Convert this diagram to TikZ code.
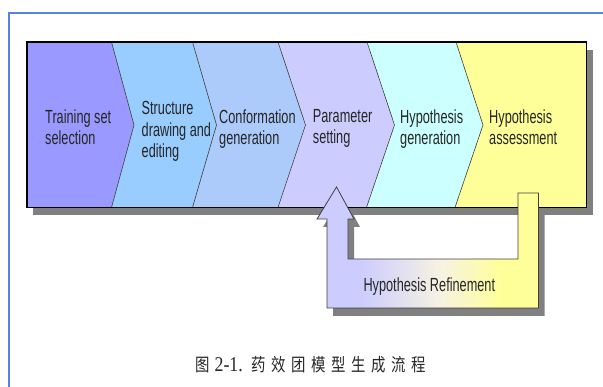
\documentclass[tikz,border=0pt]{standalone}
\usepackage{fontspec}
\newfontfamily\lbl[FakeStretch=0.67]{Liberation Sans}
\newfontfamily\cjk[FakeStretch=0.8,LetterSpace=31]{Noto Sans CJK SC}
\newfontfamily\capserif[FakeStretch=0.85]{Liberation Serif}
\definecolor{frameblue}{RGB}{84,132,220}
\definecolor{cA}{RGB}{153,153,255}
\definecolor{cB}{RGB}{153,204,255}
\definecolor{cC}{RGB}{172,202,250}
\definecolor{cD}{RGB}{204,204,255}
\definecolor{cE}{RGB}{204,255,255}
\definecolor{cF}{RGB}{255,255,153}
\definecolor{cMid}{RGB}{246,242,226}
\definecolor{shadowgray}{RGB}{128,128,128}
\pgfdeclarehorizontalshading{fbshade}{100bp}{color(0bp)=(cD); color(34.7bp)=(cD); color(52.8bp)=(cMid); color(66.3bp)=(cF); color(100bp)=(cF)}
\begin{document}
\begin{tikzpicture}[x=1pt,y=-1pt,
  lbltext/.style={font=\lbl\fontsize{19}{21.5}\selectfont, text=black!85, inner sep=0pt, anchor=north west, align=left},
  seg/.style={draw=black!75, line width=0.6pt},
  outline/.style={draw=black!75, line width=0.8pt}]
\useasboundingbox (0,0) rectangle (603,387);
\fill[white] (0,0) rectangle (603,387);
\draw[frameblue, line width=2pt] (8.5,387) -- (8.5,13.3) -- (603,13.3);

% bar corners and chevron boundaries
\coordinate (TL) at (27,42);
\coordinate (TR) at (586.5,42);
\coordinate (BR) at (586.5,207.5);
\coordinate (BL) at (27,207.5);
\coordinate (b1t) at (111.5,42);  \coordinate (b1m) at (134,125);   \coordinate (b1b) at (111.5,207.5);
\coordinate (b2t) at (192.5,42);  \coordinate (b2m) at (216.5,125); \coordinate (b2b) at (192.5,207.5);
\coordinate (b3t) at (278,42);    \coordinate (b3m) at (305.5,125); \coordinate (b3b) at (278,207.5);
\coordinate (b4t) at (367,42);    \coordinate (b4m) at (394.5,125); \coordinate (b4b) at (366.5,207.5);
\coordinate (b5t) at (456,42);    \coordinate (b5m) at (483,125);   \coordinate (b5b) at (455,207.5);

% shadows
\fill[shadowgray] ([shift={(6,8)}]TL) rectangle ([shift={(6,8)}]BR);
\fill[shadowgray, shift={(6,8)}] (336.5,187) -- (354,219) -- (348,219) -- (348,259) -- (518,259) -- (518,193) -- (538.5,193) -- (538.5,308) -- (327,308) -- (327,219) -- (317,219) -- cycle;

% chevron segments
\fill[cA] (TL) -- (b1t) -- (b1m) -- (b1b) -- (BL) -- cycle;
\fill[cB] (b1t) -- (b2t) -- (b2m) -- (b2b) -- (b1b) -- (b1m) -- cycle;
\fill[cC] (b2t) -- (b3t) -- (b3m) -- (b3b) -- (b2b) -- (b2m) -- cycle;
\fill[cD] (b3t) -- (b4t) -- (b4m) -- (b4b) -- (b3b) -- (b3m) -- cycle;
\fill[cE] (b4t) -- (b5t) -- (b5m) -- (b5b) -- (b4b) -- (b4m) -- cycle;
\fill[cF] (b5t) -- (TR) -- (BR) -- (b5b) -- (b5m) -- cycle;
\draw[seg] (b1t) -- (b1m) -- (b1b);
\draw[seg] (b2t) -- (b2m) -- (b2b);
\draw[seg] (b3t) -- (b3m) -- (b3b);
\draw[seg] (b4t) -- (b4m) -- (b4b);
\draw[seg] (b5t) -- (b5m) -- (b5b);
\draw[black, line width=1.5pt] (TL) rectangle (BR);

% feedback arrow
\shadedraw[shading=fbshade, outline] (336.5,187) -- (354,219) -- (348,219) -- (348,259) -- (518,259) -- (518,193) -- (538.5,193) -- (538.5,308) -- (327,308) -- (327,219) -- (317,219) -- cycle;

% labels
\node[lbltext] (t1) at (45,109.1) {Training set\\selection};
\node[lbltext] (t2) at (141.5,101.1) {Structure\\drawing and\\editing};
\node[lbltext] (t3) at (219,109.1) {Conformation\\generation};
\node[lbltext] (t4) at (312.7,109.1) {Parameter\\setting};
\node[lbltext] (t5) at (400,109.1) {Hypothesis\\generation};
\node[lbltext] (t6) at (489,109.1) {Hypothesis\\assessment};
\node[font=\lbl\fontsize{19}{21.5}\selectfont, text=black!85, inner sep=0pt, anchor=base west] (ref) at (363.3,291.7) {Hypothesis Refinement};

% caption
\node[anchor=base west, inner sep=0pt, text=black!85] (cap) at (195,371.8)
  {\cjk\fontsize{18}{18}\selectfont 图\hspace{5pt}{\capserif\fontsize{21}{21}\selectfont 2-1.}\hspace{8.7pt}药效团模型生成流程};
\end{tikzpicture}
\end{document}
